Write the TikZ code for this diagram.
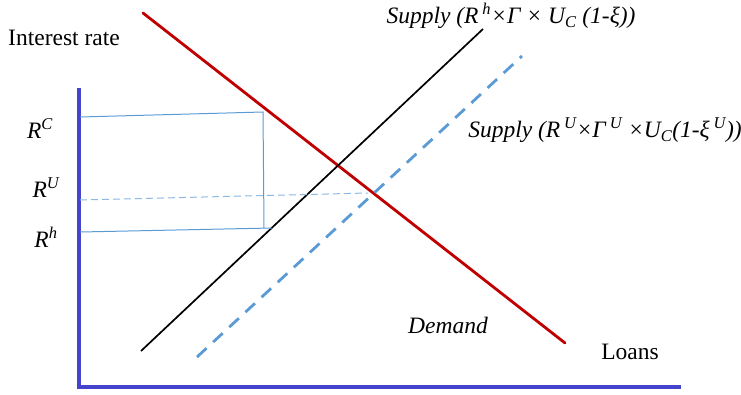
\documentclass[tikz,border=0pt]{standalone}
\usepackage{fontspec}
\setmainfont{Liberation Serif}
\usepackage{xcolor}
\usetikzlibrary{positioning,calc}

\definecolor{axisblue}{RGB}{68,68,204}
\definecolor{lineblue}{RGB}{91,155,213}
\definecolor{demandred}{RGB}{192,0,0}

\begin{document}
\begin{tikzpicture}[
    x=1pt, y=-1pt,
    axis/.style={axisblue, line width=3.2pt},
    demand/.style={demandred, line width=2.8pt},
    supply/.style={black, line width=1.7pt},
    supplyU/.style={lineblue, line width=2.8pt, dash pattern=on 13pt off 9pt},
    guide/.style={lineblue, line width=1pt},
    guideU/.style={lineblue!70, line width=1pt, dash pattern=on 7pt off 4pt},
    label/.style={font=\fontsize{23.5}{26}\selectfont, inner sep=0pt},
    rate/.style={font=\fontsize{23.5}{26}\selectfont\itshape, inner sep=0pt}
]
    \useasboundingbox (0,0) rectangle (741,394);

    % Axes
    \coordinate (ytop) at (79,88);
    \coordinate (origin) at (79,387);
    \coordinate (xend) at (681,387);
    \draw[axis] (ytop) -- (79,388.6) (77.4,387) -- (xend);

    % Demand and supply curves
    \coordinate (d_start) at (143,13);
    \coordinate (d_end) at (565,343);
    \coordinate (s_start) at (141,351);
    \coordinate (s_end) at (483,29);
    \coordinate (su_start) at (197,357);
    \coordinate (su_end) at (522,56);
    \draw[demand, line cap=round] (d_start) -- (d_end);
    \draw[supply] (s_start) -- (s_end);
    \draw[supplyU] (su_start) -- (su_end);

    % Rate levels
    \coordinate (rc_left) at (80,117);
    \coordinate (rc_right) at (263,112);
    \coordinate (rh_left) at (80,232);
    \coordinate (rh_right) at (272,228);
    \coordinate (ru_left) at (80,200);
    \coordinate (ru_right) at (368,193);
    \coordinate (gap_bottom) at (264,228);
    \draw[guide] (rc_left) -- (rc_right) -- (gap_bottom);
    \draw[guide] (rh_left) -- (rh_right);
    \draw[guideU] (ru_left) -- (ru_right);

    % Labels
    \node[label] (yname) at (64,38) {Interest rate};
    \node[label] (xname) at (630,352) {Loans};
    \node[rate] (rc) at (40,129) {R\textsuperscript{C}};
    \node[rate] (ru) at (46,188) {R\textsuperscript{U}};
    \node[rate] (rh) at (46,237) {R\textsuperscript{h}};
    \node[rate] (dname) at (448,325) {Demand};
    \node[rate] (sname) at (511,16) {Supply (R\,\textsuperscript{h}×Γ × U\textsubscript{C} (1-ξ))};
    \node[rate] (suname) at (605,130) {Supply (R\,\textsuperscript{U}×Γ\,\textsuperscript{U} ×U\textsubscript{C}(1-ξ\,\textsuperscript{U}))};
\end{tikzpicture}
\end{document}
